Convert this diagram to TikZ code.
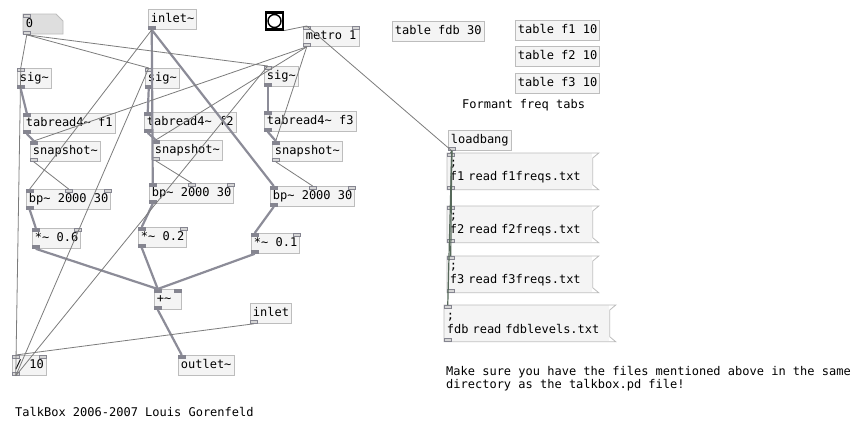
\documentclass[tikz,border=0pt]{standalone}
\usepackage{fontspec}
\usepackage{tikz}
\usetikzlibrary{calc}
\newfontfamily\pdmono{DejaVu Sans Mono}
\newcommand{\pdfont}{\pdmono\fontsize{12}{14}\selectfont}
\newcommand{\tld}{\textasciitilde}
\definecolor{boxline}{HTML}{BDBDBD}
\definecolor{boxfill}{HTML}{F4F4F4}
\definecolor{portline}{HTML}{858590}
\definecolor{portfill}{HTML}{D6D6D6}
\definecolor{wiregray}{HTML}{7C7C7C}
\definecolor{sigwirec}{HTML}{8C8C98}
\definecolor{atomfill}{HTML}{DEDEDE}
\definecolor{loadgreen}{HTML}{56695A}
\tikzset{
  pdbox/.style={
    anchor=north west,
    line width=0.8pt,
    inner xsep=2.5pt,
    inner ysep=0pt,
    font=\pdfont,
  },
  obj/.style={
    pdbox,
    draw=boxline,
    fill=boxfill,
    minimum height=20pt,
    text height=8.5pt,
    text depth=2.5pt,
  },
  msg/.style={
    pdbox,
    fill=boxfill,
    align=left,
    text width=140pt,
    minimum height=36pt,
  },
  sigport/.style={
    draw=portline,
    fill=portline,
    line width=0.5pt,
    minimum width=7pt,
    minimum height=3pt,
    inner sep=0pt,
  },
  ctlport/.style={sigport, fill=portfill},
  sig/.style={draw=sigwirec, line width=2.2pt},
  ctl/.style={draw=wiregray, line width=0.8pt},
  loadwire/.style={draw=loadgreen, line width=1.2pt},
  comment/.style={anchor=west, font=\pdfont, inner sep=0pt, align=left},
}
\newcommand{\pdport}[4]{\node[#1, anchor=#3] (#4) at (#2.#3) {};}

\begin{document}
\begin{tikzpicture}[x=1pt,y=-1pt]
  \path[use as bounding box, fill=white] (0,0) rectangle (852,434);

  \filldraw[draw=boxline, fill=atomfill, line width=0.8pt]
    (23,14) -- (56,14) -- (63,21) -- (63,34) -- (23,34) -- cycle;
  \node[obj, draw=none, fill=none] (num0) at (23,14) {0};
  \node[obj] (inl) at (148,9) {inlet\tld};
  \node[draw=black, line width=2.2pt, fill=white, minimum size=17pt, inner sep=0pt] (bng) at (274.5,21) {};
  \draw[black, line width=1.4pt] (bng.center) circle (6.5pt);
  \node[obj] (metro) at (303,26) {metro 1};

  \node[obj] (tfdb) at (392,21) {table fdb 30};
  \node[obj] (tf1) at (515,20) {table f1 10};
  \node[obj] (tf2) at (515,46) {table f2 10};
  \node[obj] (tf3) at (515,73) {table f3 10};
  \node[comment] (tabsnote) at (462,105) {Formant freq tabs};

  \node[obj] (sig1) at (17,68) {sig\tld};
  \node[obj] (sig2) at (145,68) {sig\tld};
  \node[obj] (sig3) at (264,66) {sig\tld};
  \node[obj] (tab1) at (23,113) {tabread4\tld{} f1};
  \node[obj] (tab2) at (144,112) {tabread4\tld{} f2};
  \node[obj] (tab3) at (264,111) {tabread4\tld{} f3};
  \node[obj] (snap1) at (30,141) {snapshot\tld};
  \node[obj] (snap2) at (152,140) {snapshot\tld};
  \node[obj] (snap3) at (272,141) {snapshot\tld};
  \node[obj] (bp1) at (26,189) {bp\tld{} 2000 30};
  \node[obj] (bp2) at (149,183) {bp\tld{} 2000 30};
  \node[obj] (bp3) at (270,186) {bp\tld{} 2000 30};
  \node[obj] (mul1) at (32,228) {*\tld{} 0.6};
  \node[obj] (mul2) at (138,227) {*\tld{} 0.2};
  \node[obj] (mul3) at (251,233) {*\tld{} 0.1};
  \node[obj, text width=22pt] (plus) at (154,289) {+\tld};
  \node[obj] (inlc) at (250,303) {inlet};
  \node[obj] (div) at (12,355) {/ 10};
  \node[obj] (outl) at (178,355) {outlet\tld};

  \node[obj] (loadb) at (448,130) {loadbang};
  \node[msg] (m1) at (447,153) {;\\f1 read f1freqs.txt};
  \node[msg] (m2) at (447,206) {;\\f2 read f2freqs.txt};
  \node[msg] (m3) at (447,256) {;\\f3 read f3freqs.txt};
  \node[msg, text width=160pt] (m4) at (444,305) {;\\fdb read fdblevels.txt};
  \foreach \m in {m1,m2,m3,m4}
    \draw[draw=boxline, line width=0.8pt] (\m.north west) -- ($(\m.north east)+(6,0)$)
      -- ($(\m.north east)+(0,5)$) -- ($(\m.south east)+(0,-5)$)
      -- ($(\m.south east)+(6,0)$) -- (\m.south west) -- cycle;

  \node[comment, anchor=north west, font={\pdmono\fontsize{12}{11}\selectfont}] (filesnote) at (446,366)
    {Make sure you have the files mentioned above in the same\\directory as the talkbox.pd file!};
  \node[comment] (credit) at (15,412) {TalkBox 2006-2007 Louis Gorenfeld};

  \pdport{ctlport}{num0}{north west}{num0-i0}
  \pdport{ctlport}{num0}{south west}{num0-o0}
  \pdport{sigport}{inl}{south west}{inl-o0}
  \pdport{ctlport}{metro}{north west}{metro-i0}
  \pdport{ctlport}{metro}{north east}{metro-i1}
  \pdport{ctlport}{metro}{south west}{metro-o0}
  \foreach \i in {1,2,3} {
    \pdport{ctlport}{sig\i}{north west}{sig\i-i0}
    \pdport{sigport}{sig\i}{south west}{sig\i-o0}
    \pdport{sigport}{tab\i}{north west}{tab\i-i0}
    \pdport{sigport}{tab\i}{south west}{tab\i-o0}
    \pdport{sigport}{snap\i}{north west}{snap\i-i0}
    \pdport{ctlport}{snap\i}{south west}{snap\i-o0}
    \pdport{sigport}{bp\i}{north west}{bp\i-i0}
    \pdport{ctlport}{bp\i}{north}{bp\i-i1}
    \pdport{ctlport}{bp\i}{north east}{bp\i-i2}
    \pdport{sigport}{bp\i}{south west}{bp\i-o0}
    \pdport{sigport}{mul\i}{north west}{mul\i-i0}
    \pdport{ctlport}{mul\i}{north east}{mul\i-i1}
    \pdport{sigport}{mul\i}{south west}{mul\i-o0}
  }
  \pdport{sigport}{plus}{north west}{plus-i0}
  \pdport{sigport}{plus}{north east}{plus-i1}
  \pdport{sigport}{plus}{south west}{plus-o0}
  \pdport{ctlport}{inlc}{south west}{inlc-o0}
  \pdport{ctlport}{div}{north west}{div-i0}
  \pdport{ctlport}{div}{north east}{div-i1}
  \pdport{ctlport}{div}{south west}{div-o0}
  \pdport{sigport}{outl}{north west}{outl-i0}
  \pdport{ctlport}{loadb}{south west}{loadb-o0}
  \foreach \m in {m1,m2,m3,m4} {
    \pdport{ctlport}{\m}{north west}{\m-i0}
    \pdport{ctlport}{\m}{south west}{\m-o0}
  }

  \draw[sig] (inl-o0.south) -- (bp2-i0.north);
  \draw[sig] (inl-o0.south) -- (bp3-i0.north);
  \draw[ctl] (inl-o0.south) -- (bp1-i0.north);
  \foreach \i in {1,2,3} {
    \draw[ctl] (num0-o0.south) -- (sig\i-i0.north);
    \draw[ctl] (div-o0.south) -- (sig\i-i0.north);
    \draw[ctl] (metro-o0.south) -- (snap\i-i0.north);
    \draw[sig] (sig\i-o0.south) -- (tab\i-i0.north);
    \draw[sig] (tab\i-o0.south) -- (snap\i-i0.north);
    \draw[ctl] (snap\i-o0.south) -- (bp\i-i1.north);
    \draw[sig] (bp\i-o0.south) -- (mul\i-i0.north);
    \draw[sig] (mul\i-o0.south) -- (plus-i0.north);
  }
  \draw[sig] (plus-o0.south) -- (outl-i0.north);
  \draw[ctl] (inlc-o0.south) -- (div-i0.north);
  \draw[ctl] (bng.south east) -- (metro-i0.north);
  \draw[ctl] (loadb-o0.south) -- (metro-i0.north);
  \foreach \m in {m1,m2,m3,m4}
    \draw[loadwire] (loadb-o0.south) -- (\m-i0.north);
\end{tikzpicture}
\end{document}
